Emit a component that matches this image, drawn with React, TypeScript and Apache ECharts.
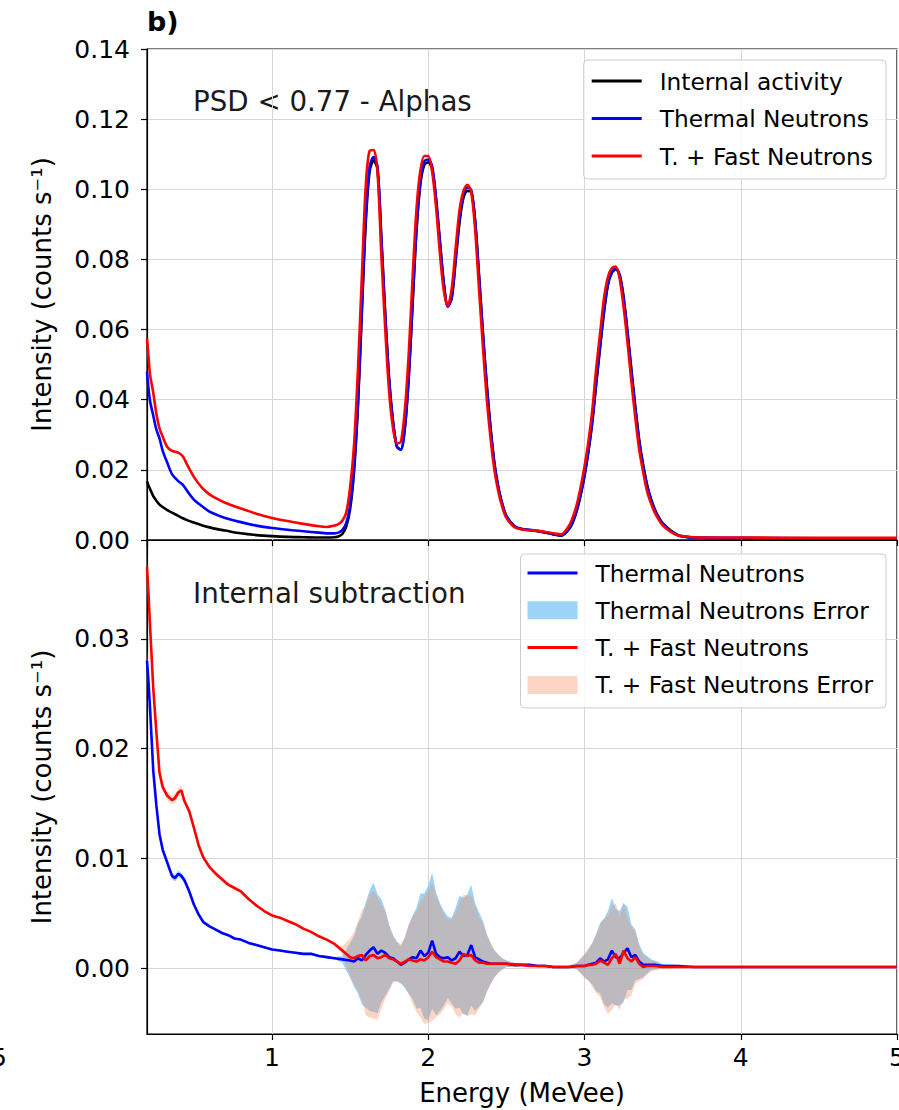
import React, { useEffect, useRef } from "react";
import * as echarts from "echarts";

const FONT = "'DejaVu Sans', sans-serif";

// ---------- Top panel (PSD < 0.77 - Alphas) ----------
const topX = [
  0.2, 0.21, 0.22, 0.24, 0.26, 0.28, 0.3, 0.33, 0.36, 0.4, 0.43, 0.46, 0.5, 0.55, 0.6, 0.65, 0.7, 0.8, 0.9, 1.0, 1.1, 1.2, 1.3, 1.35,
  1.4, 1.425, 1.45, 1.475, 1.5,
  1.525, 1.55, 1.575, 1.6, 1.625, 1.65, 1.675, 1.7, 1.725, 1.75, 1.775, 1.8, 1.825, 1.85, 1.875, 1.9, 1.925, 1.95, 1.975, 2.0,
  2.025, 2.05, 2.075, 2.1, 2.125, 2.15, 2.175, 2.2, 2.225, 2.25, 2.275, 2.3, 2.325, 2.35, 2.375, 2.4, 2.425, 2.45, 2.475, 2.5,
  2.55, 2.6, 2.65, 2.7, 2.75, 2.8, 2.85, 2.9,
  2.925, 2.95, 2.975, 3.0, 3.025, 3.05, 3.075, 3.1, 3.125, 3.15, 3.175, 3.2, 3.225, 3.25, 3.275, 3.3, 3.325, 3.35, 3.375, 3.4,
  3.425, 3.45, 3.475, 3.5,
  3.55, 3.6, 3.65, 3.7, 3.8, 4.0, 4.5, 5.0,
];

const internalTop = [
  0.0167, 0.0155, 0.0145, 0.0125, 0.0112, 0.0101, 0.0094, 0.0085, 0.0078, 0.0069, 0.0062, 0.0056, 0.005, 0.0042, 0.0036, 0.0031, 0.0027, 0.0019, 0.0014, 0.0011, 0.0009, 0.0008, 0.0007, 0.0007,
  0.0008, 0.001, 0.0017, 0.0038, 0.0088,
  0.0195, 0.0382, 0.0648, 0.0905, 0.1052, 0.1082, 0.1058, 0.0858, 0.064, 0.0456, 0.0336, 0.0266, 0.0258, 0.0318, 0.0462, 0.0676, 0.0884, 0.1016, 0.107, 0.1077,
  0.1058, 0.097, 0.0848, 0.073, 0.0668, 0.069, 0.0795, 0.0905, 0.0975, 0.0995, 0.0993, 0.091, 0.0755, 0.059, 0.044, 0.0315, 0.0214, 0.0147, 0.0101, 0.0069,
  0.004, 0.0031, 0.0028, 0.0025, 0.0021, 0.0016, 0.0012, 0.003,
  0.005, 0.0082, 0.0127, 0.0182, 0.0252, 0.0337, 0.0445, 0.055, 0.065, 0.0727, 0.0762, 0.0772, 0.0756, 0.0693, 0.0595, 0.0486, 0.0381, 0.0286, 0.0216, 0.0159,
  0.0118, 0.0088, 0.0065, 0.0048,
  0.0028, 0.0014, 0.0009, 0.0007, 0.0006, 0.0005, 0.0005, 0.0005,
];

const thermalTop = [
  0.048, 0.043, 0.0395, 0.0355, 0.0315, 0.029, 0.0255, 0.022, 0.0188, 0.0168, 0.0157, 0.0138, 0.0115, 0.0097, 0.0081, 0.0071, 0.0063, 0.0051, 0.0041, 0.0034, 0.0029, 0.0025, 0.0021, 0.0019,
  0.0019, 0.0021, 0.0028, 0.0048, 0.01,
  0.0205, 0.039, 0.066, 0.092, 0.1065, 0.1092, 0.1065, 0.086, 0.064, 0.0455, 0.0335, 0.0265, 0.0258, 0.032, 0.0465, 0.068, 0.089, 0.1025, 0.108, 0.1085,
  0.1065, 0.0975, 0.085, 0.073, 0.0665, 0.069, 0.08, 0.0915, 0.0985, 0.1005, 0.0998, 0.091, 0.075, 0.0585, 0.0435, 0.031, 0.0212, 0.0146, 0.01, 0.0068,
  0.004, 0.0031, 0.0029, 0.0026, 0.0022, 0.0017, 0.0013, 0.0032,
  0.0052, 0.0085, 0.013, 0.0185, 0.0255, 0.034, 0.045, 0.0555, 0.0655, 0.073, 0.0765, 0.0775, 0.0755, 0.069, 0.059, 0.048, 0.0375, 0.028, 0.021, 0.0155,
  0.0115, 0.0085, 0.0062, 0.0045,
  0.0026, 0.0013, 0.0009, 0.0007, 0.0006, 0.0006, 0.0005, 0.0005,
];

const fastTop = [
  0.0575, 0.052, 0.047, 0.042, 0.036, 0.0318, 0.0295, 0.0265, 0.0254, 0.0249, 0.0238, 0.0212, 0.018, 0.015, 0.013, 0.0117, 0.0106, 0.009, 0.0075, 0.0063, 0.0054, 0.0046, 0.0039, 0.0037,
  0.0041, 0.0045, 0.0055, 0.0078, 0.015,
  0.027, 0.0485, 0.075, 0.101, 0.111, 0.1112, 0.105, 0.081, 0.06, 0.042, 0.0318, 0.0275, 0.028, 0.037, 0.053, 0.075, 0.0945, 0.1055, 0.1095, 0.1095,
  0.105, 0.095, 0.0815, 0.071, 0.0668, 0.0716, 0.083, 0.094, 0.0995, 0.1013, 0.0992, 0.0885, 0.0715, 0.055, 0.04, 0.0285, 0.0195, 0.0135, 0.0092, 0.0063,
  0.0037, 0.003, 0.0028, 0.0026, 0.0023, 0.0019, 0.0016, 0.004,
  0.0065, 0.01, 0.015, 0.021, 0.028, 0.037, 0.049, 0.059, 0.069, 0.075, 0.0775, 0.078, 0.0745, 0.0665, 0.0565, 0.0452, 0.035, 0.0258, 0.0195, 0.014,
  0.0105, 0.0078, 0.0058, 0.0042,
  0.0024, 0.0013, 0.001, 0.0008, 0.0007, 0.0007, 0.0006, 0.0006,
];

// ---------- Bottom panel (Internal subtraction) ----------
const subX = [
  0.2, 0.21, 0.22, 0.24, 0.26, 0.28, 0.3, 0.33, 0.36, 0.38, 0.4, 0.42, 0.44, 0.47, 0.5, 0.53, 0.56, 0.6, 0.64, 0.68, 0.72, 0.76, 0.8, 0.85, 0.9, 0.95,
  1.0, 1.05, 1.1, 1.15, 1.2, 1.25, 1.3, 1.35, 1.4, 1.45, 1.5,
  1.525, 1.55, 1.575, 1.6, 1.625, 1.65, 1.675, 1.7, 1.725, 1.75, 1.775, 1.8, 1.825, 1.85, 1.875, 1.9, 1.925, 1.95, 1.975, 2.0,
  2.025, 2.05, 2.075, 2.1, 2.125, 2.15, 2.175, 2.2, 2.225, 2.25, 2.275, 2.3, 2.325, 2.35, 2.375, 2.4, 2.425, 2.45, 2.475, 2.5,
  2.55, 2.6, 2.65, 2.7, 2.75, 2.8, 2.85, 2.9, 2.95, 3.0,
  3.025, 3.05, 3.075, 3.1, 3.125, 3.15, 3.175, 3.2, 3.225, 3.25, 3.275, 3.3, 3.325, 3.35, 3.375, 3.4, 3.425, 3.45,
  3.5, 3.6, 3.7, 3.8, 3.9, 4.0, 4.1, 4.2, 4.3, 4.4, 4.5, 4.6, 4.7, 4.8, 4.9, 5.0,
];

const thermalSub = [
  0.028, 0.026, 0.0235, 0.018, 0.0148, 0.0122, 0.0108, 0.0096, 0.0084, 0.0082, 0.0086, 0.0084, 0.008, 0.007, 0.0058, 0.0049, 0.0042, 0.0038, 0.0035, 0.0032, 0.003, 0.0027, 0.0026, 0.0023, 0.0021, 0.0019,
  0.0017, 0.0016, 0.0015, 0.0014, 0.0013, 0.0013, 0.0011, 0.001, 0.0009, 0.0008, 0.0007,
  0.0006, 0.0009, 0.0007, 0.0012, 0.0016, 0.0019, 0.0013, 0.0016, 0.0014, 0.001, 0.0009, 0.0006, 0.0003, 0.0005, 0.0008, 0.001, 0.0009, 0.0016, 0.0011, 0.0014,
  0.0025, 0.0013, 0.001, 0.0009, 0.001, 0.0007, 0.0009, 0.0015, 0.0011, 0.0012, 0.0021, 0.001, 0.0008, 0.0006, 0.0005, 0.0004, 0.0004, 0.0004, 0.0004, 0.0004,
  0.0003, 0.0003, 0.0003, 0.0002, 0.0002, 0.0001, 0.0001, 0.0001, 0.0002, 0.0002,
  0.0003, 0.0004, 0.0005, 0.0009, 0.0006, 0.0008, 0.0016, 0.001, 0.0009, 0.0014, 0.0018, 0.001, 0.0012, 0.0006, 0.0003, 0.0003, 0.0003, 0.0003,
  0.0002, 0.0002, 0.0001, 0.0001, 0.0001, 0.0001, 0.0001, 0.0001, 0.0001, 0.0001, 0.0001, 0.0001, 0.0001, 0.0001, 0.0001, 0.0001,
];

const fastSub = [
  0.0365, 0.034, 0.031, 0.0255, 0.0215, 0.0178, 0.0165, 0.0157, 0.0153, 0.0155, 0.016, 0.0162, 0.0152, 0.0143, 0.0128, 0.0112, 0.0101, 0.0092, 0.0086, 0.0081, 0.0076, 0.0073, 0.007, 0.0063, 0.0057, 0.0052,
  0.0048, 0.0046, 0.0043, 0.004, 0.0036, 0.0033, 0.0029, 0.0026, 0.0022, 0.0016, 0.001,
  0.0009, 0.0011, 0.0012, 0.0007, 0.0011, 0.0012, 0.0009, 0.001, 0.0012, 0.0009, 0.0008, 0.0006, 0.0004, 0.0006, 0.0008, 0.0007, 0.0006, 0.0008, 0.0007, 0.001,
  0.0015, 0.001, 0.0008, 0.0006, 0.0006, 0.0005, 0.0004, 0.0007, 0.0013, 0.0011, 0.0012, 0.0007, 0.0005, 0.0005, 0.0004, 0.0004, 0.0004, 0.0004, 0.0004, 0.0004,
  0.0003, 0.0003, 0.0002, 0.0002, 0.0002, 0.0001, 0.0001, 0.0001, 0.0002, 0.0002,
  0.0003, 0.0003, 0.0004, 0.0007, 0.0005, 0.0003, 0.0009, 0.0013, 0.0004, 0.0016, 0.0009, 0.0006, 0.001, 0.0004, 0.0001, 0.0002, 0.0002, 0.0002,
  0.0001, 0.0001, 0.0001, 0.0001, 0.0001, 0.0001, 0.0001, 0.0001, 0.0001, 0.0001, 0.0001, 0.0001, 0.0001, 0.0001, 0.0001, 0.0001,
];

// error half-widths (band = value ± error)
const thermalErr = [
  0.001, 0.0007, 0.0006, 0.0005, 0.0004, 0.0004, 0.0003, 0.0003, 0.0003, 0.0003, 0.0003, 0.0003, 0.0003, 0.0002, 0.0002, 0.0002, 0.0002, 0.0001, 0.0001, 0.0001, 0.0001, 0.0001, 0.0001, 0.0001, 0.0001, 0.0001,
  0.0001, 0.0001, 0.0001, 0.0001, 0.0001, 0.0001, 0.0001, 0.0001, 0.0001, 0.0003, 0.0016,
  0.0023, 0.0032, 0.004, 0.0048, 0.0055, 0.0059, 0.0054, 0.0047, 0.0039, 0.0029, 0.0021, 0.0018, 0.0017, 0.0023, 0.0031, 0.0038, 0.0046, 0.0052, 0.0057, 0.0061,
  0.0062, 0.0056, 0.0049, 0.0043, 0.0037, 0.0039, 0.0046, 0.0051, 0.0053, 0.0055, 0.0055, 0.0049, 0.0043, 0.0037, 0.0026, 0.0018, 0.0012, 0.0008, 0.0005, 0.0003,
  0.0002, 0.0001, 0.0001, 0.0001, 0.0001, 0.0001, 0.0001, 0.0001, 0.0003, 0.001,
  0.0014, 0.0019, 0.0026, 0.0032, 0.0039, 0.0044, 0.0048, 0.0044, 0.0043, 0.0045, 0.0038, 0.003, 0.0023, 0.0016, 0.0011, 0.0008, 0.0005, 0.0004,
  0.0002, 0.0001, 0.00005, 0.00005, 0.00005, 0.00005, 0.00005, 0.00005, 0.00005, 0.00005, 0.00005, 0.00005, 0.00005, 0.00005, 0.00005, 0.00005,
];

const fastErr = [
  0.001, 0.0008, 0.0006, 0.0005, 0.0005, 0.0004, 0.0004, 0.0004, 0.0004, 0.0004, 0.0004, 0.0004, 0.0003, 0.0003, 0.0003, 0.0002, 0.0002, 0.0002, 0.0002, 0.0002, 0.0002, 0.0001, 0.0001, 0.0001, 0.0001, 0.0001,
  0.0001, 0.0001, 0.0001, 0.0001, 0.0001, 0.0001, 0.0001, 0.0001, 0.0001, 0.0004, 0.0017,
  0.0024, 0.0031, 0.0041, 0.005, 0.0056, 0.0058, 0.0056, 0.0047, 0.004, 0.003, 0.0021, 0.0018, 0.0018, 0.0022, 0.0032, 0.004, 0.0046, 0.0053, 0.0058, 0.006,
  0.0063, 0.0055, 0.005, 0.0043, 0.0038, 0.004, 0.0046, 0.0052, 0.0054, 0.0055, 0.0054, 0.005, 0.0042, 0.0036, 0.0026, 0.0019, 0.0012, 0.0008, 0.0005, 0.0003,
  0.0002, 0.0001, 0.0001, 0.0001, 0.0001, 0.0001, 0.0001, 0.0001, 0.0003, 0.0011,
  0.0015, 0.002, 0.0027, 0.0033, 0.004, 0.0045, 0.0047, 0.0046, 0.0042, 0.0044, 0.0037, 0.0031, 0.0024, 0.0016, 0.0011, 0.0008, 0.0005, 0.0004,
  0.0002, 0.0001, 0.00005, 0.00005, 0.00005, 0.00005, 0.00005, 0.00005, 0.00005, 0.00005, 0.00005, 0.00005, 0.00005, 0.00005, 0.00005, 0.00005,
];

const topYTicks = { min: 0, max: 0.14, interval: 0.02 };
const subYRange = { min: -0.006, max: 0.039 };
const xRange = { min: 0.2, max: 5 };

const BLUE_FILL = "rgba(101,189,241,0.65)";
const ORANGE_FILL = "rgba(249,135,89,0.35)";
const LINE_ICON = "path://M0,0h50v3h-50z";

export default function App() {
  const ref = useRef<HTMLDivElement>(null);

  useEffect(() => {
    if (!ref.current) return;
    const chart = echarts.init(ref.current, null, { renderer: "svg" });

    const pairs = (xs: number[], ys: number[]) => xs.map((x, i) => [x, ys[i]]);
    const band = (xs: number[], ys: number[], es: number[]) =>
      xs.map((x, i) => [x, ys[i] - es[i], ys[i] + es[i]]);

    const bandSeries = (name: string, data: number[][], color: string) => ({
      name,
      type: "custom",
      coordinateSystem: "cartesian2d",
      xAxisIndex: 1,
      yAxisIndex: 1,
      itemStyle: { color },
      encode: { x: 0, y: [1, 2] },
      data,
      clip: true,
      z: 1,
      silent: true,
      renderItem: (params: any, api: any) => {
        if (params.dataIndex !== 0) return null;
        const upper = data.map((d) => api.coord([d[0], d[2]]));
        const lower = data
          .slice()
          .reverse()
          .map((d) => api.coord([d[0], d[1]]));
        return {
          type: "polygon",
          shape: { points: upper.concat(lower) },
          style: { fill: color, stroke: null },
        };
      },
    });

    const lineSeries = (
      name: string,
      data: number[][],
      color: string,
      idx: number,
      smooth: any
    ) => ({
      name,
      type: "line",
      xAxisIndex: idx,
      yAxisIndex: idx,
      data,
      symbol: "none",
      showSymbol: false,
      smooth,
      lineStyle: { color, width: 2.6 },
      itemStyle: { color },
      z: 3,
    });

    const tickLabel = {
      color: "#000",
      fontSize: 25,
      fontFamily: FONT,
    };

    const axisNameStyle = {
      color: "#000",
      fontSize: 26,
      fontFamily: FONT,
    };

    const splitLine = { show: true, lineStyle: { color: "#d6d6d6", width: 1 } };
    const axisTick = { show: true, length: 6, lineStyle: { color: "#000", width: 1.2 } };
    const axisLine = { show: true, onZero: false, lineStyle: { color: "#000", width: 1.2 } };

    const legendBase = {
      orient: "vertical",
      right: 13,
      itemWidth: 50,
      selectedMode: false,
      backgroundColor: "rgba(255,255,255,0.8)",
      borderColor: "#cccccc",
      borderWidth: 1,
      borderRadius: 4,
      symbolKeepAspect: true,
      textStyle: {
        color: "#000",
        fontSize: 23.3,
        fontFamily: FONT,
        lineHeight: 26,
        padding: [0, 0, 0, 13],
      },
    };

    chart.setOption({
      animation: false,
      textStyle: { fontFamily: FONT },
      grid: [
        {
          left: 147, top: 49, width: 750, height: 491, show: true, borderColor: "#000", borderWidth: 1.2,
          containLabel: false, outerBoundsMode: "none",
        },
        {
          left: 147, top: 540, width: 750, height: 494, show: true, borderColor: "#000", borderWidth: 1.2,
          containLabel: false, outerBoundsMode: "none",
        },
      ],
      xAxis: [
        {
          gridIndex: 0,
          type: "value",
          min: xRange.min,
          max: xRange.max,
          splitNumber: 5,
          axisLine,
          axisTick,
          axisLabel: { show: false },
          splitLine,
        },
        {
          gridIndex: 1,
          type: "value",
          min: xRange.min,
          max: xRange.max,
          splitNumber: 5,
          axisLine,
          axisTick,
          axisLabel: {
            ...tickLabel,
            margin: 11,
            showMinLabel: false,
            formatter: (v: number) => (Math.abs(v - Math.round(v)) < 1e-9 ? String(Math.round(v)) : ""),
          },
          splitLine,
          name: "Energy (MeVee)",
          nameLocation: "middle",
          nameGap: 46,
          nameTextStyle: axisNameStyle,
        },
      ],
      yAxis: [
        {
          gridIndex: 0,
          type: "value",
          min: topYTicks.min,
          max: topYTicks.max,
          interval: topYTicks.interval,
          axisLine,
          axisTick,
          axisLabel: { ...tickLabel, margin: 17, formatter: (v: number) => v.toFixed(2) },
          splitLine,
          name: "Intensity (counts s\u207B\u00B9)",
          nameLocation: "middle",
          nameRotate: 90,
          nameGap: 92,
          nameTextStyle: axisNameStyle,
        },
        {
          gridIndex: 1,
          type: "value",
          min: subYRange.min,
          max: subYRange.max,
          splitNumber: 5,
          axisLine,
          axisTick,
          axisLabel: {
            ...tickLabel,
            margin: 17,
            showMinLabel: false,
            showMaxLabel: false,
            formatter: (v: number) => {
              const k = v / 0.01;
              return Math.abs(k - Math.round(k)) < 1e-6 ? (Math.round(k) * 0.01).toFixed(2) : "";
            },
          },
          splitLine,
          name: "Intensity (counts s\u207B\u00B9)",
          nameLocation: "middle",
          nameRotate: 90,
          nameGap: 92,
          nameTextStyle: axisNameStyle,
        },
      ],
      legend: [
        {
          ...legendBase,
          top: 60,
          itemHeight: 14,
          itemGap: 11.5,
          padding: [8, 13, 10, 8],
          data: [
            { name: "Internal activity", icon: LINE_ICON },
            { name: "Thermal Neutrons", icon: LINE_ICON },
            { name: "T. + Fast Neutrons", icon: LINE_ICON },
          ],
        },
        {
          ...legendBase,
          top: 554,
          itemHeight: 18,
          itemGap: 11.3,
          padding: [6, 13, 10, 7],
          data: [
            { name: "Thermal Neutrons", icon: LINE_ICON },
            { name: "Thermal Neutrons Error", icon: "rect" },
            { name: "T. + Fast Neutrons", icon: LINE_ICON },
            { name: "T. + Fast Neutrons Error", icon: "rect" },
          ],
        },
      ],
      graphic: [
        {
          type: "text",
          left: 147,
          top: 8,
          style: { text: "b)", font: `bold 27px ${FONT}`, fill: "#000" },
        },
        {
          type: "text",
          x: 193,
          y: 101,
          style: {
            text: "PSD < 0.77 - Alphas",
            font: `27.7px ${FONT}`,
            fill: "#1a1a1a",
            verticalAlign: "middle",
          },
        },
        {
          type: "text",
          x: 193,
          y: 593,
          style: {
            text: "Internal subtraction",
            font: `27.7px ${FONT}`,
            fill: "#1a1a1a",
            verticalAlign: "middle",
          },
        },
        {
          type: "text",
          x: -9,
          y: 1057,
          style: {
            text: "5",
            font: `25px ${FONT}`,
            fill: "#000",
            verticalAlign: "middle",
          },
        },
      ],
      series: [
        lineSeries("Internal activity", pairs(topX, internalTop), "#000000", 0, 0.3),
        lineSeries("Thermal Neutrons", pairs(topX, thermalTop), "#0000ff", 0, 0.3),
        lineSeries("T. + Fast Neutrons", pairs(topX, fastTop), "#ff0000", 0, 0.3),
        bandSeries("Thermal Neutrons Error", band(subX, thermalSub, thermalErr), BLUE_FILL),
        bandSeries("T. + Fast Neutrons Error", band(subX, fastSub, fastErr), ORANGE_FILL),
        lineSeries("Thermal Neutrons", pairs(subX, thermalSub), "#0000ff", 1, false),
        lineSeries("T. + Fast Neutrons", pairs(subX, fastSub), "#ff0000", 1, false),
      ],
    });

    return () => chart.dispose();
  }, []);

  return (
    <div
      ref={ref}
      style={{ position: "absolute", left: 0, top: 0, width: 899, height: 1110, background: "#fff" }}
    />
  );
}
